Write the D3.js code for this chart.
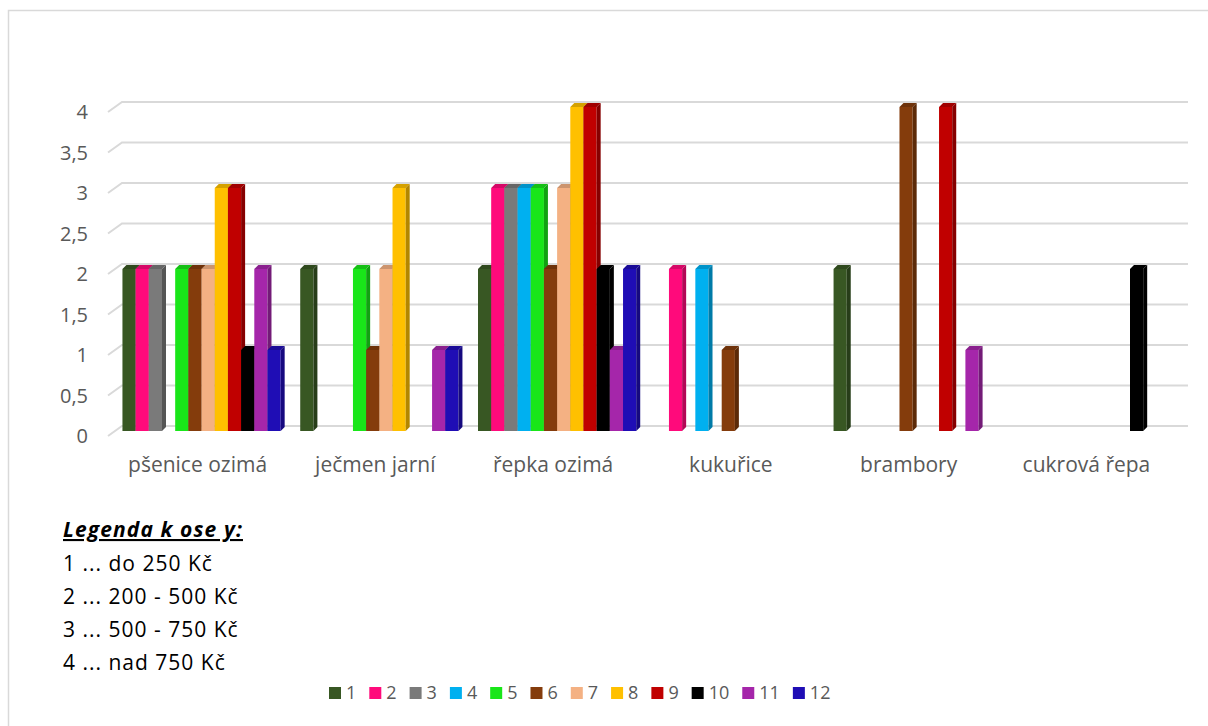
<!DOCTYPE html>
<html>
<head>
<meta charset="utf-8">
<script src="https://cdn.jsdelivr.net/npm/d3@7"></script>
<style>
  body { margin: 0; background: #fff; }
  svg { display: block; font-family: "Open Sans", Lato, sans-serif; }
</style>
</head>
<body>
<svg id="chart" width="1208" height="726"></svg>
<script>
// chart data
const categories = ['pšenice ozimá', 'ječmen jarní', 'řepka ozimá', 'kukuřice', 'brambory', 'cukrová řepa'];
const seriesNames = ['1', '2', '3', '4', '5', '6', '7', '8', '9', '10', '11', '12'];
const seriesColors = ['#385723', '#ff0a7b', '#7a7a7a', '#00b0f0', '#19e619', '#843c0c',
                      '#f4b183', '#ffc000', '#c00000', '#000000', '#a526aa', '#1f0db5'];
// values[seriesIndex][categoryIndex]
const values = [
  [2, 2, 2, 0, 2, 0],
  [2, 0, 3, 2, 0, 0],
  [2, 0, 3, 0, 0, 0],
  [0, 0, 3, 2, 0, 0],
  [2, 2, 3, 0, 0, 0],
  [2, 1, 2, 1, 4, 0],
  [2, 2, 3, 0, 0, 0],
  [3, 3, 4, 0, 0, 0],
  [3, 0, 4, 0, 4, 0],
  [1, 0, 2, 0, 0, 2],
  [2, 1, 1, 0, 1, 0],
  [1, 1, 2, 0, 0, 0]
];
const yTicks = [0, 0.5, 1, 1.5, 2, 2.5, 3, 3.5, 4];
const yLegendTitle = 'Legenda k ose y:';
const yLegendLines = ['1 ... do 250 Kč', '2 ... 200 - 500 Kč', '3 ... 500 - 750 Kč', '4 ... nad 750 Kč'];

const svg = d3.select('#chart');
const textGray = '#595959';
const depth = {dx: 4, dy: -4};

// outer frame
svg.append('rect')
  .attr('x', 8.5).attr('y', 10.5)
  .attr('width', 1240).attr('height', 760)
  .attr('fill', 'none').attr('stroke', '#d9d9d9').attr('stroke-width', 1.5);

const x = d3.scaleBand().domain(categories).range([110, 1182]).paddingInner(0.11).paddingOuter(0.07);
const xs = d3.scaleBand().domain(seriesNames).range([0, x.bandwidth()]);
const y = d3.scaleLinear().domain([0, 4]).range([431, 107]);

// gridlines (back wall with slanted floor edge)
const gridG = svg.append('g').classed('grid', true);
gridG.selectAll('path')
  .data(yTicks)
  .join('path')
  .attr('d', v => `M108,${y(v) + 5}L122,${y(v) - 5}H1188`)
  .attr('fill', 'none')
  .attr('stroke', '#d9d9d9')
  .attr('stroke-width', 2);

gridG.selectAll('text')
  .data(yTicks)
  .join('text')
  .attr('x', 88)
  .attr('y', v => y(v) + 5)
  .attr('dy', '0.35em')
  .attr('text-anchor', 'end')
  .attr('fill', textGray)
  .attr('font-size', 20)
  .text(v => String(v).replace('.', ','));

// bars
const bars = [];
categories.forEach((c, ci) => {
  seriesNames.forEach((s, si) => {
    const v = values[si][ci];
    if (v > 0) bars.push({c, s, v, color: seriesColors[si]});
  });
});

const barsG = svg.append('g').classed('bars', true);
const barG = barsG.selectAll('g')
  .data(bars)
  .join('g')
  .attr('transform', d => `translate(${x(d.c) + xs(d.s)},0)`);

barG.append('rect')
  .attr('x', 0)
  .attr('y', d => y(d.v))
  .attr('width', xs.bandwidth())
  .attr('height', d => y(0) - y(d.v))
  .attr('fill', d => d.color);

barG.append('path')
  .attr('d', d => {
    const w = xs.bandwidth(), t = y(d.v);
    return `M0,${t}L${depth.dx},${t + depth.dy}L${w + depth.dx},${t + depth.dy}L${w},${t}Z`;
  })
  .attr('fill', d => d3.color(d.color).darker(0.5));

barG.append('path')
  .attr('d', d => {
    const w = xs.bandwidth(), t = y(d.v), b = y(0);
    return `M${w},${t}L${w + depth.dx},${t + depth.dy}L${w + depth.dx},${b + depth.dy}L${w},${b}Z`;
  })
  .attr('fill', d => d3.color(d.color).darker(1));

// category labels
svg.append('g').selectAll('text')
  .data(categories)
  .join('text')
  .attr('x', d => x(d) + x.bandwidth() / 2 - 4)
  .attr('y', 472)
  .attr('text-anchor', 'middle')
  .attr('fill', textGray)
  .attr('font-size', 21)
  .text(d => d);

// y legend text block
const yl = svg.append('g').attr('transform', 'translate(63,0)');
yl.append('text')
  .attr('y', 537)
  .attr('font-size', 21)
  .attr('letter-spacing', 1.1)
  .attr('font-weight', 'bold')
  .attr('font-style', 'italic')
  .attr('text-decoration', 'underline')
  .attr('fill', '#000')
  .text(yLegendTitle);
yl.selectAll('text.line')
  .data(yLegendLines)
  .join('text')
  .classed('line', true)
  .attr('y', (d, i) => 571 + i * 33)
  .attr('font-size', 21)
  .attr('letter-spacing', 1)
  .attr('fill', '#000')
  .text(d => d);

// series legend
const legend = svg.append('g').classed('legend', true);
let lx = 329;
seriesNames.forEach((s, i) => {
  const item = legend.append('g').attr('transform', `translate(${lx},0)`);
  item.append('rect')
    .attr('x', 0).attr('y', 687)
    .attr('width', 12).attr('height', 12)
    .attr('fill', seriesColors[i]);
  const t = item.append('text')
    .attr('x', 17).attr('y', 693)
    .attr('dy', '0.35em')
    .attr('font-size', 18)
    .attr('fill', textGray)
    .text(s);
  lx += 17 + t.node().getComputedTextLength() + 13;
});
</script>
</body>
</html>
